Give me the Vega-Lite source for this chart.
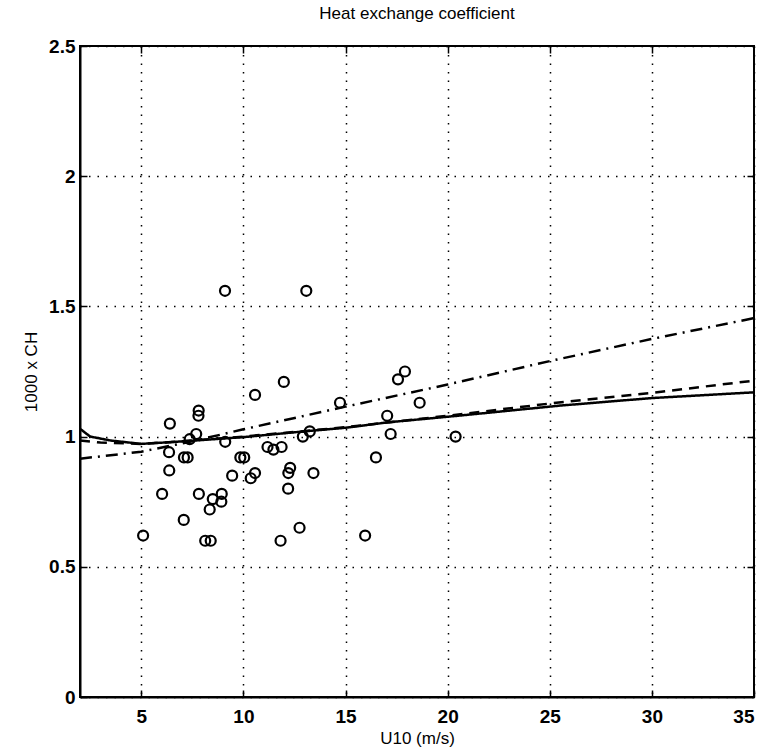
{
  "$schema": "https://vega.github.io/schema/vega-lite/v6.json",
  "autosize": {"type": "none"},
  "width": 674,
  "height": 651,
  "padding": {"left": 80, "top": 46, "right": 25, "bottom": 57},
  "background": "white",
  "title": {"text": "Heat exchange coefficient", "fontSize": 17, "font": "Liberation Sans", "fontWeight": "normal", "color": "black", "offset": 14, "anchor": "middle"},
  "config": {
    "view": {"stroke": "black", "strokeWidth": 2},
    "axis": {"domainColor": "black", "domainWidth": 2, "tickColor": "black", "tickWidth": 1.5, "tickSize": -7, "labelColor": "black", "labelFont": "Liberation Sans", "labelFontSize": 19, "labelFontWeight": "bold", "titleFont": "Liberation Sans", "titleFontSize": 17, "titleFontWeight": "normal", "titleColor": "black", "gridColor": "black", "gridDash": [1.5, 7], "gridWidth": 1.5, "gridOpacity": 1}
  },
  "datasets": {
    "pts": [
      {"u": 11.98, "ch": 1.21}, {"u": 10.57, "ch": 1.16}, {"u": 6.40, "ch": 1.05}, {"u": 7.81, "ch": 1.10},
      {"u": 7.80, "ch": 1.08}, {"u": 7.69, "ch": 1.01}, {"u": 7.37, "ch": 0.99}, {"u": 9.11, "ch": 0.98},
      {"u": 6.36, "ch": 0.94}, {"u": 7.09, "ch": 0.92}, {"u": 7.27, "ch": 0.92}, {"u": 9.85, "ch": 0.92},
      {"u": 10.04, "ch": 0.92}, {"u": 11.18, "ch": 0.96}, {"u": 11.47, "ch": 0.95}, {"u": 11.87, "ch": 0.96},
      {"u": 6.37, "ch": 0.87}, {"u": 9.45, "ch": 0.85}, {"u": 10.57, "ch": 0.86}, {"u": 10.36, "ch": 0.84},
      {"u": 12.29, "ch": 0.88}, {"u": 12.20, "ch": 0.86}, {"u": 12.19, "ch": 0.80}, {"u": 6.02, "ch": 0.78},
      {"u": 7.82, "ch": 0.78}, {"u": 8.94, "ch": 0.78}, {"u": 8.92, "ch": 0.75}, {"u": 8.50, "ch": 0.76},
      {"u": 8.35, "ch": 0.72}, {"u": 7.08, "ch": 0.68}, {"u": 5.09, "ch": 0.62}, {"u": 8.13, "ch": 0.60},
      {"u": 8.40, "ch": 0.60}, {"u": 11.82, "ch": 0.60}, {"u": 12.75, "ch": 0.65}, {"u": 9.10, "ch": 1.56},
      {"u": 13.08, "ch": 1.56}, {"u": 17.91, "ch": 1.25}, {"u": 17.57, "ch": 1.22}, {"u": 14.73, "ch": 1.13},
      {"u": 18.63, "ch": 1.13}, {"u": 17.04, "ch": 1.08}, {"u": 17.21, "ch": 1.01}, {"u": 20.39, "ch": 1.00},
      {"u": 13.25, "ch": 1.02}, {"u": 12.91, "ch": 1.00}, {"u": 16.49, "ch": 0.92}, {"u": 13.43, "ch": 0.86},
      {"u": 15.96, "ch": 0.62}
    ],
    "curves": [
      {"s": "solid", "u": 2, "ch": 1.03}, {"s": "solid", "u": 2.5, "ch": 1.0}, {"s": "solid", "u": 3.5, "ch": 0.985},
      {"s": "solid", "u": 5, "ch": 0.972}, {"s": "solid", "u": 6.3, "ch": 0.978}, {"s": "solid", "u": 8, "ch": 0.987},
      {"s": "solid", "u": 10, "ch": 0.998}, {"s": "solid", "u": 12.7, "ch": 1.018}, {"s": "solid", "u": 15, "ch": 1.034},
      {"s": "solid", "u": 17.1, "ch": 1.055}, {"s": "solid", "u": 20.5, "ch": 1.08}, {"s": "solid", "u": 25.5, "ch": 1.119},
      {"s": "solid", "u": 30, "ch": 1.148}, {"s": "solid", "u": 35, "ch": 1.17},
      {"s": "dashed", "u": 2, "ch": 0.985}, {"s": "dashed", "u": 3, "ch": 0.977}, {"s": "dashed", "u": 5, "ch": 0.972},
      {"s": "dashed", "u": 7, "ch": 0.982}, {"s": "dashed", "u": 10, "ch": 1.0}, {"s": "dashed", "u": 15, "ch": 1.036},
      {"s": "dashed", "u": 20, "ch": 1.08}, {"s": "dashed", "u": 25, "ch": 1.127}, {"s": "dashed", "u": 30, "ch": 1.168},
      {"s": "dashed", "u": 35, "ch": 1.215},
      {"s": "dashdot", "u": 2, "ch": 0.915}, {"s": "dashdot", "u": 5, "ch": 0.942}, {"s": "dashdot", "u": 7.5, "ch": 0.982},
      {"s": "dashdot", "u": 10, "ch": 1.028}, {"s": "dashdot", "u": 15, "ch": 1.115}, {"s": "dashdot", "u": 20, "ch": 1.2},
      {"s": "dashdot", "u": 25, "ch": 1.29}, {"s": "dashdot", "u": 30, "ch": 1.375}, {"s": "dashdot", "u": 35, "ch": 1.455}
    ]
  },
  "layer": [
    {
      "data": {"name": "pts"},
      "mark": {"type": "point", "shape": "circle", "filled": false, "stroke": "black", "strokeWidth": 2.2, "size": 100, "opacity": 1},
      "encoding": {
        "x": {"field": "u", "type": "quantitative", "scale": {"domain": [2, 35], "nice": false, "zero": false}, "axis": {"values": [5, 10, 15, 20, 25, 30, 35], "title": "U10 (m/s)", "titlePadding": 4, "labelPadding": 17, "grid": true}},
        "y": {"field": "ch", "type": "quantitative", "scale": {"domain": [0, 2.5], "nice": false}, "axis": {"values": [0, 0.5, 1, 1.5, 2, 2.5], "format": "~g", "title": "1000 x CH", "titlePadding": 8, "labelPadding": 12, "grid": true}}
      }
    },
    {
      "data": {"name": "curves"},
      "mark": {"type": "line", "color": "black", "strokeWidth": 2.5},
      "encoding": {
        "x": {"field": "u", "type": "quantitative", "scale": {"domain": [2, 35], "nice": false, "zero": false}, "axis": {"orient": "top", "values": [5, 10, 15, 20, 25, 30], "labels": false, "grid": false, "title": null, "domain": false}},
        "y": {"field": "ch", "type": "quantitative", "scale": {"domain": [0, 2.5], "nice": false}, "axis": {"orient": "right", "values": [0.5, 1, 1.5, 2], "labels": false, "grid": false, "title": null, "domain": false}},
        "strokeDash": {"field": "s", "type": "nominal", "scale": {"domain": ["solid", "dashed", "dashdot"], "range": [[1, 0], [10, 7], [12, 6, 2, 6]]}, "legend": null},
        "detail": {"field": "s"}
      }
    }
  ],
  "resolve": {"axis": {"x": "independent", "y": "independent"}}
}
